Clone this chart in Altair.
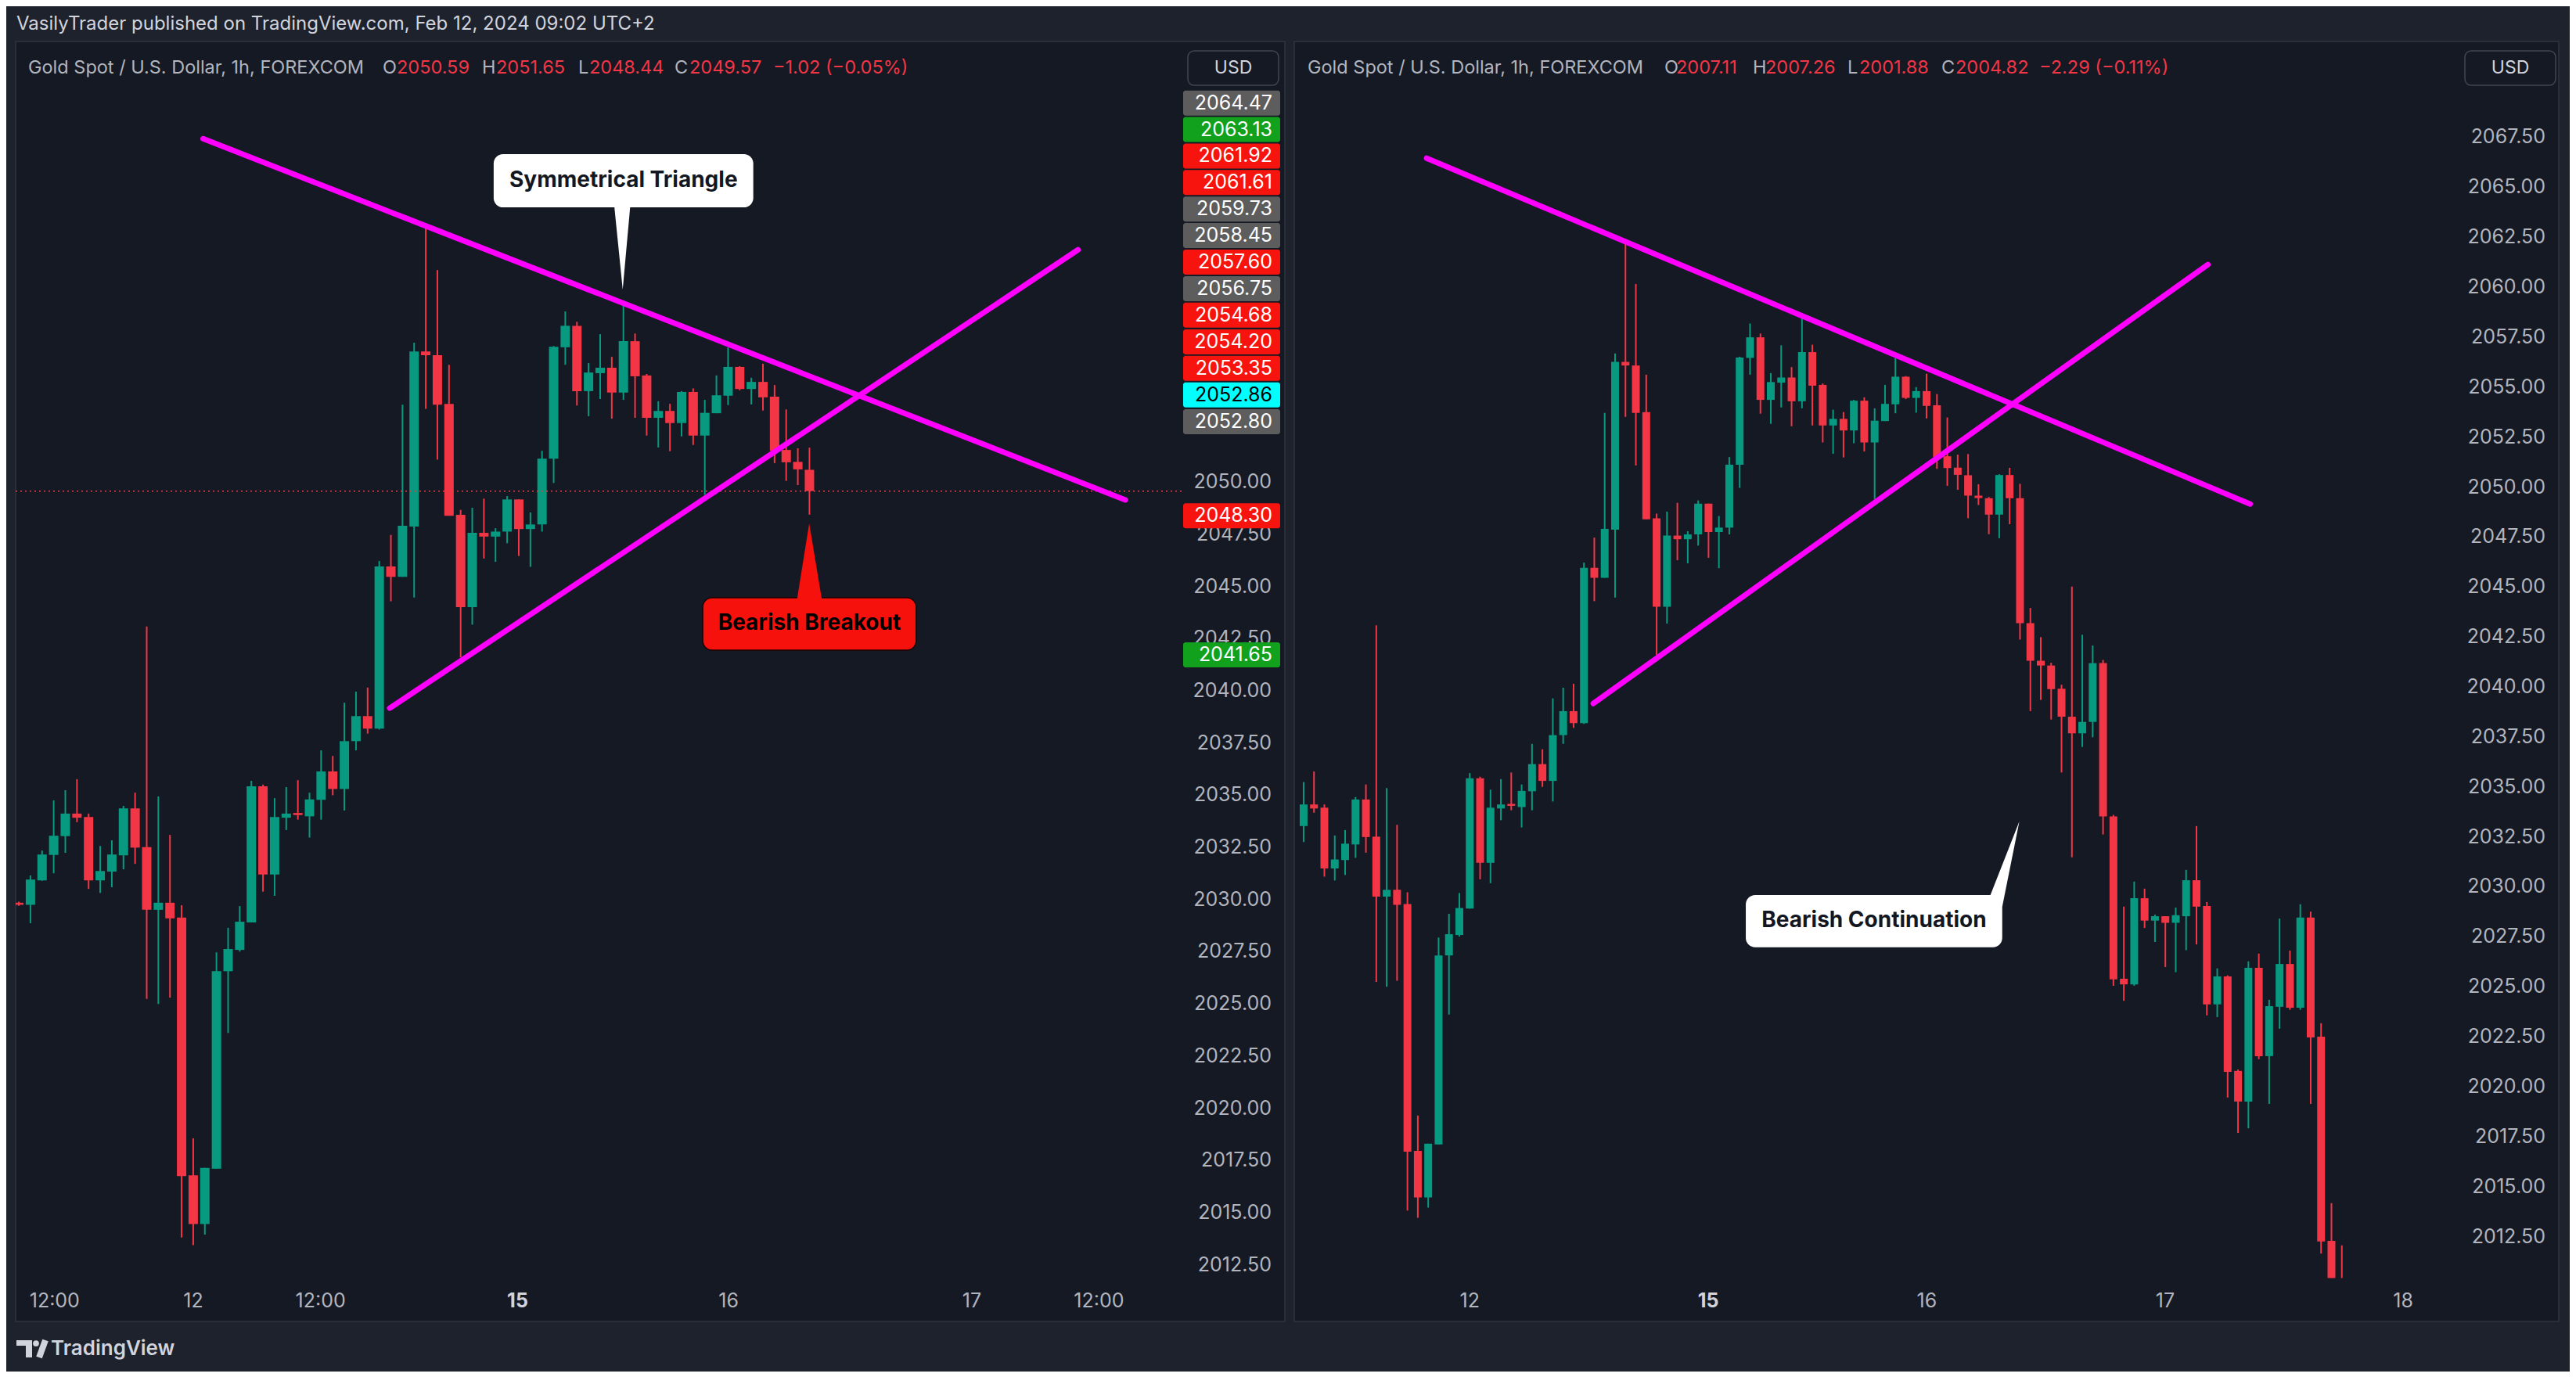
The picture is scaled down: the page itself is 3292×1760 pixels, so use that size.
import altair as alt
import pandas as pd

# ---------------- data: hourly XAUUSD bars (index 0..105) ----------------
opens = [2029.85, 2029.75, 2030.92, 2032.14, 2033.04, 2034.12, 2033.96, 2030.92, 2031.34, 2032.12,
         2034.37, 2032.51, 2029.51, 2029.85, 2029.14, 2016.79, 2014.46, 2017.11, 2026.57, 2027.59,
         2028.91, 2035.43, 2031.20, 2033.92, 2034.15, 2033.99, 2034.78, 2036.14, 2035.30, 2037.59,
         2038.79, 2038.19, 2045.96, 2045.46, 2047.87, 2056.26, 2056.08, 2053.75, 2048.43, 2044.01,
         2047.57, 2047.39, 2047.63, 2049.17, 2047.75, 2047.97, 2051.12, 2056.46, 2057.49, 2054.36,
         2055.22, 2055.48, 2054.29, 2056.75, 2055.11, 2053.08, 2053.41, 2052.83, 2054.32, 2052.23,
         2053.30, 2054.14, 2055.52, 2054.46, 2054.80, 2054.09, 2051.54, 2050.97, 2050.59, 2049.57,
         2049.44, 2048.62, 2050.60, 2049.44, 2043.19, 2041.31, 2041.07, 2039.91, 2038.51, 2037.68,
         2038.25, 2041.19, 2033.52, 2025.40, 2025.12, 2029.43, 2028.31, 2028.53, 2028.20, 2028.53,
         2030.33, 2029.04, 2024.12, 2025.52, 2020.79, 2019.26, 2025.95, 2021.53, 2024.00, 2026.14,
         2023.95, 2028.46, 2022.50, 2012.29, 2009.00, 2007.11]
highs = [2029.90, 2031.16, 2032.35, 2034.75, 2035.24, 2035.77, 2034.12, 2032.57, 2032.84, 2034.49,
         2035.12, 2043.08, 2034.94, 2033.10, 2029.73, 2018.56, 2017.15, 2027.47, 2028.65, 2029.69,
         2035.69, 2035.51, 2034.86, 2035.39, 2035.72, 2035.12, 2037.15, 2036.88, 2039.43, 2039.96,
         2040.16, 2046.22, 2047.47, 2053.71, 2056.68, 2062.41, 2060.16, 2055.62, 2048.67, 2048.77,
         2049.21, 2047.79, 2049.33, 2049.17, 2048.55, 2051.50, 2056.52, 2058.18, 2057.68, 2055.70,
         2057.09, 2056.00, 2058.70, 2057.12, 2055.18, 2053.87, 2053.75, 2054.36, 2054.49, 2053.94,
         2055.11, 2056.45, 2055.55, 2055.00, 2055.67, 2054.65, 2053.48, 2051.62, 2051.65, 2050.14,
         2049.50, 2050.64, 2050.96, 2050.16, 2043.95, 2042.49, 2041.21, 2040.11, 2045.02, 2042.61,
         2042.07, 2041.35, 2033.60, 2029.01, 2030.26, 2029.91, 2028.61, 2028.53, 2028.96, 2030.85,
         2033.04, 2029.24, 2025.92, 2025.57, 2020.86, 2026.27, 2026.66, 2024.35, 2028.41, 2026.81,
         2029.13, 2028.76, 2023.18, 2014.18, 2012.06, 2007.26]
lows = [2029.70, 2028.87, 2030.90, 2031.26, 2032.24, 2033.71, 2030.51, 2030.32, 2030.59, 2031.45,
        2031.71, 2025.24, 2025.00, 2025.30, 2013.81, 2013.44, 2013.95, 2017.11, 2023.61, 2027.51,
        2028.91, 2030.38, 2030.18, 2033.33, 2033.83, 2032.97, 2033.83, 2035.00, 2034.27, 2037.15,
        2037.95, 2038.15, 2044.29, 2045.46, 2044.47, 2053.51, 2051.08, 2048.39, 2041.60, 2043.17,
        2046.34, 2046.18, 2047.07, 2046.46, 2045.94, 2047.63, 2049.96, 2055.62, 2053.67, 2053.16,
        2053.98, 2053.04, 2053.94, 2053.08, 2052.23, 2051.66, 2051.48, 2052.19, 2051.78, 2049.39,
        2053.30, 2053.69, 2054.40, 2053.72, 2053.43, 2050.91, 2050.06, 2049.86, 2048.44, 2049.10,
        2047.64, 2047.44, 2048.14, 2042.37, 2038.79, 2039.35, 2038.37, 2035.72, 2031.48, 2037.00,
        2037.48, 2032.62, 2025.05, 2024.30, 2025.05, 2027.94, 2027.24, 2025.99, 2025.73, 2026.83,
        2027.12, 2023.57, 2023.48, 2019.46, 2017.69, 2017.92, 2021.38, 2019.14, 2022.90, 2023.85,
        2023.85, 2019.14, 2011.65, 2008.50, 2006.40, 2001.88]
closes = [2029.75, 2030.96, 2032.16, 2033.06, 2034.12, 2033.92, 2030.92, 2031.37, 2032.16, 2034.37,
          2032.49, 2029.51, 2029.85, 2029.10, 2016.75, 2014.46, 2017.15, 2026.57, 2027.63, 2028.94,
          2035.43, 2031.20, 2033.96, 2034.12, 2034.05, 2034.80, 2036.14, 2035.30, 2037.59, 2038.79,
          2038.19, 2045.96, 2045.46, 2047.91, 2056.26, 2056.08, 2053.71, 2048.39, 2044.01, 2047.57,
          2047.39, 2047.63, 2049.17, 2047.75, 2047.97, 2051.12, 2056.48, 2057.49, 2054.36, 2055.25,
          2055.48, 2054.29, 2056.75, 2055.07, 2053.08, 2053.41, 2052.83, 2054.32, 2052.23, 2053.32,
          2054.16, 2055.52, 2054.46, 2054.80, 2054.06, 2051.50, 2050.95, 2050.61, 2049.57, 2049.45,
          2048.62, 2050.60, 2049.44, 2043.19, 2041.31, 2041.07, 2039.89, 2038.51, 2037.68, 2038.25,
          2041.19, 2033.52, 2025.37, 2025.12, 2029.43, 2028.31, 2028.53, 2028.20, 2028.58, 2030.33,
          2029.01, 2024.12, 2025.52, 2020.74, 2019.26, 2025.95, 2021.53, 2024.03, 2026.14, 2023.95,
          2028.46, 2022.47, 2012.26, 2009.00, 2007.11, 2004.82]

left_last_bar = 68      # left snapshot ends here
right_first_bar = 4     # right snapshot starts here

# price-axis tick labels
left_yticks = [2012.5, 2015.0, 2017.5, 2020.0, 2022.5, 2025.0, 2027.5, 2030.0, 2032.5, 2035.0,
               2037.5, 2040.0, 2042.5, 2045.0, 2047.5, 2050.0]
right_yticks = [2012.5, 2015.0, 2017.5, 2020.0, 2022.5, 2025.0, 2027.5, 2030.0, 2032.5, 2035.0,
                2037.5, 2040.0, 2042.5, 2045.0, 2047.5, 2050.0, 2052.5, 2055.0, 2057.5, 2060.0,
                2062.5, 2065.0, 2067.5]

# time-axis labels (bar index positions)
left_xtick_pos = [3.08, 15.0, 25.95, 42.9, 61.05, 81.97, 92.9]
left_xtick_text = ["12:00", "12", "12:00", "15", "16", "17", "12:00"]
right_xtick_pos = [20.0, 42.97, 64.03, 86.98, 109.9]
right_xtick_text = ["12", "15", "16", "17", "18"]

# stacked price labels on left price scale
stack_text = ["2064.47", "2063.13", "2061.92", "2061.61", "2059.73", "2058.45", "2057.60", "2056.75",
              "2054.68", "2054.20", "2053.35", "2052.86", "2052.80", "2048.30", "2041.65"]
stack_pos = [2068.16, 2066.89, 2065.62, 2064.35, 2063.08, 2061.81, 2060.54, 2059.27,
             2058.00, 2056.72, 2055.45, 2054.18, 2052.89, 2048.39, 2041.72]
stack_kind = ["gray", "green", "red", "red", "gray", "gray", "red", "gray",
              "red", "red", "red", "cyan", "gray", "red", "green"]

# triangle lines (bar index, price)
upper_x = [15.85, 95.17]
upper_y = [2066.45, 2049.15]
lower_x = [31.9, 91.1]
lower_y = [2039.17, 2061.13]

last_close_left = 2049.57

# ---------------- style ----------------
FONT = "Inter"
OUTER = "#1e222d"
PANEL = "#151924"
BORDER = "#2a2e39"
GREEN = "#089981"
RED = "#f23645"
MAG = "#ff00ff"
AXIS_C = "#b2b5be"
TXT = "#d1d4dc"
KIND_FILL = {"gray": "#5d5d5d", "green": "#12a11d", "red": "#f7140e", "cyan": "#00ffff"}
KIND_TEXT = {"gray": "#ffffff", "green": "#ffffff", "red": "#ffffff", "cyan": "#000000"}
AX_FS = 25
LEG_FS = 23.5
CALL_FS = 28

LW, RW, H = 1490, 1484, 1580.5
LXD, RXD = [0.064, 99.67], [3.476, 114.57]
LYD, RYD = [2011.87, 2071.11], [2010.43, 2072.29]

bars = pd.DataFrame({"i": list(range(len(opens))), "o": opens, "h": highs, "l": lows, "c": closes})
bars["dir"] = ["up" if c >= o else "down" for o, c in zip(bars.o, bars.c)]
one = pd.DataFrame({"k": [0]})


def sx(d):
    return alt.Scale(domain=d, nice=False, zero=False)


def candle_layers(df, xd, yd, bw):
    col = alt.Color("dir:N", scale=alt.Scale(domain=["up", "down"], range=[GREEN, RED]), legend=None)
    wick = alt.Chart(df).mark_rule(strokeWidth=2, clip=True).encode(
        x=alt.X("i:Q", scale=sx(xd), axis=None),
        y=alt.Y("l:Q", scale=sx(yd), axis=None),
        y2="h:Q", color=col)
    body = alt.Chart(df).mark_bar(size=bw, clip=True).encode(
        x=alt.X("i:Q", scale=sx(xd), axis=None),
        y=alt.Y("o:Q", scale=sx(yd), axis=None),
        y2="c:Q", color=col)
    return [wick, body]


def ytick_layer(ticks, yd, xpx):
    d = pd.DataFrame({"v": ticks, "t": [f"{v:.2f}" for v in ticks]})
    return alt.Chart(d).mark_text(align="right", baseline="middle", font=FONT, fontSize=AX_FS,
                                  color=AXIS_C).encode(
        x=alt.value(xpx), y=alt.Y("v:Q", scale=sx(yd), axis=None), text="t:N")


def xtick_layers(pos, txt, xd):
    d = pd.DataFrame({"v": pos, "t": txt})
    nb = d[d.t != "15"]
    b = d[d.t == "15"]
    l1 = alt.Chart(nb).mark_text(align="center", baseline="middle", font=FONT, fontSize=AX_FS,
                                 color=AXIS_C).encode(
        x=alt.X("v:Q", scale=sx(xd), axis=None), y=alt.value(1610), text="t:N")
    l2 = alt.Chart(b).mark_text(align="center", baseline="middle", font=FONT, fontSize=AX_FS,
                                fontWeight="bold", color=TXT).encode(
        x=alt.X("v:Q", scale=sx(xd), axis=None), y=alt.value(1610), text="t:N")
    return [l1, l2]


def trend_layer(xd, yd):
    d = pd.DataFrame({"x": upper_x + lower_x, "y": upper_y + lower_y,
                      "line": ["upper", "upper", "lower", "lower"]})
    return alt.Chart(d).mark_line(color=MAG, strokeWidth=7, strokeCap="round", clip=True).encode(
        x=alt.X("x:Q", scale=sx(xd), axis=None), y=alt.Y("y:Q", scale=sx(yd), axis=None),
        detail="line:N")


def legend_layers(segments):
    out = []
    for t, xpx, c in segments:
        out.append(alt.Chart(one).mark_text(align="left", baseline="middle", font=FONT, fontSize=LEG_FS,
                                            color=c).encode(x=alt.value(xpx), y=alt.value(34),
                                                            text=alt.value(t)))
    return out


def callout(xd, yd, box, tail, label, fill, tcolor, stroke=None):
    bd = pd.DataFrame({"x0": [box[0]], "x1": [box[1]], "y0": [box[2]], "y1": [box[3]],
                       "xm": [(box[0] + box[1]) / 2], "ym": [(box[2] + box[3]) / 2], "t": [label]})
    td = pd.DataFrame({"x": tail[0], "y": tail[1], "y2": tail[2]})
    rect_kw = dict(cornerRadius=12, color=fill)
    if stroke:
        rect_kw.update(stroke=stroke, strokeWidth=1.5)
    r = alt.Chart(bd).mark_rect(**rect_kw).encode(
        x=alt.X("x0:Q", scale=sx(xd), axis=None), x2="x1:Q",
        y=alt.Y("y0:Q", scale=sx(yd), axis=None), y2="y1:Q")
    a = alt.Chart(td).mark_area(color=fill).encode(
        x=alt.X("x:Q", scale=sx(xd), axis=None), y=alt.Y("y:Q", scale=sx(yd), axis=None), y2="y2:Q")
    t = alt.Chart(bd).mark_text(font=FONT, fontSize=CALL_FS, fontWeight="bold", color=tcolor,
                                baseline="middle", align="center").encode(
        x=alt.X("xm:Q", scale=sx(xd), axis=None), y=alt.Y("ym:Q", scale=sx(yd), axis=None), text="t:N")
    return [r, a, t]


def usd_box(x0, x1):
    b = alt.Chart(one).mark_rect(color=PANEL, stroke="#434651", strokeWidth=1.5, cornerRadius=8).encode(
        x=alt.value(x0), x2=alt.value(x1), y=alt.value(12), y2=alt.value(56))
    t = alt.Chart(one).mark_text(font=FONT, fontSize=23, color=TXT, align="center",
                                 baseline="middle").encode(
        x=alt.value((x0 + x1) / 2), y=alt.value(34), text=alt.value("USD"))
    return [b, t]


# ---------------- left panel ----------------
left_bars = bars[bars.i <= left_last_bar]
L = []
L.append(alt.Chart(one).mark_rect(color=OUTER).encode(
    x=alt.value(-12), x2=alt.value(3264), y=alt.value(-45), y2=alt.value(1699)))
L.append(alt.Chart(one).mark_rect(color=PANEL, stroke=BORDER, strokeWidth=2).encode(
    x=alt.value(0), x2=alt.value(1622), y=alt.value(0), y2=alt.value(1636)))
L += candle_layers(left_bars, LXD, LYD, 12)
L.append(alt.Chart(pd.DataFrame({"p": [last_close_left]})).mark_rule(
    color=RED, strokeWidth=1.5, strokeDash=[2, 4]).encode(
    y=alt.Y("p:Q", scale=sx(LYD), axis=None)))
L.append(trend_layer(LXD, LYD))
L += callout(LXD, LYD, (40.84, 63.17, 2065.71, 2063.16),
             ([51.2, 51.94, 52.6], [2063.3, 2063.3, 2063.3], [2063.3, 2059.23, 2063.3]),
             "Symmetrical Triangle", "#ffffff", "#131722")
L += callout(LXD, LYD, (58.82, 77.18, 2044.46, 2041.95),
             ([66.91, 67.98, 69.09], [2044.3, 2048.02, 2044.3], [2044.3, 2044.3, 2044.3]),
             "Bearish Breakout", "#f7110d", "#000000", stroke="#1a0000")
L.append(ytick_layer(left_yticks, LYD, 1605))
sd = pd.DataFrame({"pos": stack_pos, "t": stack_text,
                   "f": [KIND_FILL[k] for k in stack_kind], "tc": [KIND_TEXT[k] for k in stack_kind]})
L.append(alt.Chart(sd).mark_rect(cornerRadius=3, yOffset=-16, y2Offset=16).encode(
    x=alt.value(1492), x2=alt.value(1616), y=alt.Y("pos:Q", scale=sx(LYD), axis=None), y2="pos:Q",
    color=alt.Color("f:N", scale=None)))
L.append(alt.Chart(sd).mark_text(align="right", baseline="middle", font=FONT, fontSize=AX_FS).encode(
    x=alt.value(1606), y=alt.Y("pos:Q", scale=sx(LYD), axis=None), text="t:N",
    color=alt.Color("tc:N", scale=None)))
L += xtick_layers(left_xtick_pos, left_xtick_text, LXD)
L += usd_box(1498, 1614)
L += legend_layers([("Gold Spot / U.S. Dollar, 1h, FOREXCOM", 16, AXIS_C), ("O", 469, AXIS_C),
                    ("2050.59", 487, RED), ("H", 596, AXIS_C), ("2051.65", 614, RED),
                    ("L", 719, AXIS_C), ("2048.44", 733, RED), ("C", 842, AXIS_C),
                    ("2049.57", 861, RED), ("\u22121.02 (\u22120.05%)", 968, RED)])
# header + footer
L.append(alt.Chart(one).mark_text(align="left", baseline="middle", font=FONT, fontSize=24,
                                  color=TXT).encode(
    x=alt.value(1), y=alt.value(-22),
    text=alt.value("VasilyTrader published on TradingView.com, Feb 12, 2024 09:02 UTC+2")))
L.append(alt.Chart(one).mark_rect(color=TXT).encode(
    x=alt.value(1), x2=alt.value(21), y=alt.value(1660), y2=alt.value(1667)))
L.append(alt.Chart(one).mark_rect(color=TXT).encode(
    x=alt.value(13), x2=alt.value(21), y=alt.value(1660), y2=alt.value(1682)))
L.append(alt.Chart(one).mark_point(filled=True, color=TXT, size=60, opacity=1).encode(
    x=alt.value(26), y=alt.value(1664)))
L.append(alt.Chart(one).mark_rule(color=TXT, strokeWidth=8).encode(
    x=alt.value(30), x2=alt.value(38), y=alt.value(1682), y2=alt.value(1660)))
L.append(alt.Chart(one).mark_text(align="left", baseline="middle", font=FONT, fontSize=26,
                                  fontWeight=600, color=TXT).encode(
    x=alt.value(45), y=alt.value(1671), text=alt.value("TradingView")))

left = alt.layer(*L).properties(width=LW, height=H)

# ---------------- right panel ----------------
right_bars = bars[bars.i >= right_first_bar]
R = []
R.append(alt.Chart(one).mark_rect(color=PANEL, stroke=BORDER, strokeWidth=2).encode(
    x=alt.value(0), x2=alt.value(1616), y=alt.value(0), y2=alt.value(1636)))
R += candle_layers(right_bars, RXD, RYD, 10)
R.append(trend_layer(RXD, RYD))
R += callout(RXD, RYD, (46.59, 71.29, 2029.59, 2026.98),
             ([70.15, 71.29, 72.94], [2029.59, 2031.10, 2033.28], [2029.59, 2029.0, 2033.28]),
             "Bearish Continuation", "#ffffff", "#131722")
R.append(ytick_layer(right_yticks, RYD, 1599))
R += xtick_layers(right_xtick_pos, right_xtick_text, RXD)
R += usd_box(1496, 1612)
R += legend_layers([("Gold Spot / U.S. Dollar, 1h, FOREXCOM", 17, AXIS_C), ("O", 473, AXIS_C),
                    ("2007.11", 488, RED), ("H", 586, AXIS_C), ("2007.26", 602, RED),
                    ("L", 707, AXIS_C), ("2001.88", 722, RED), ("C", 827, AXIS_C),
                    ("2004.82", 845, RED), ("\u22122.29 (\u22120.11%)", 952, RED)])

right = alt.layer(*R).properties(width=RW, height=H)

chart = alt.hconcat(left, right, spacing=144, bounds="flush").properties(
    padding=0, background=OUTER
).configure_view(strokeWidth=0, fill=None)

chart.save("out.html", embed_options={"renderer": "svg", "actions": False})
